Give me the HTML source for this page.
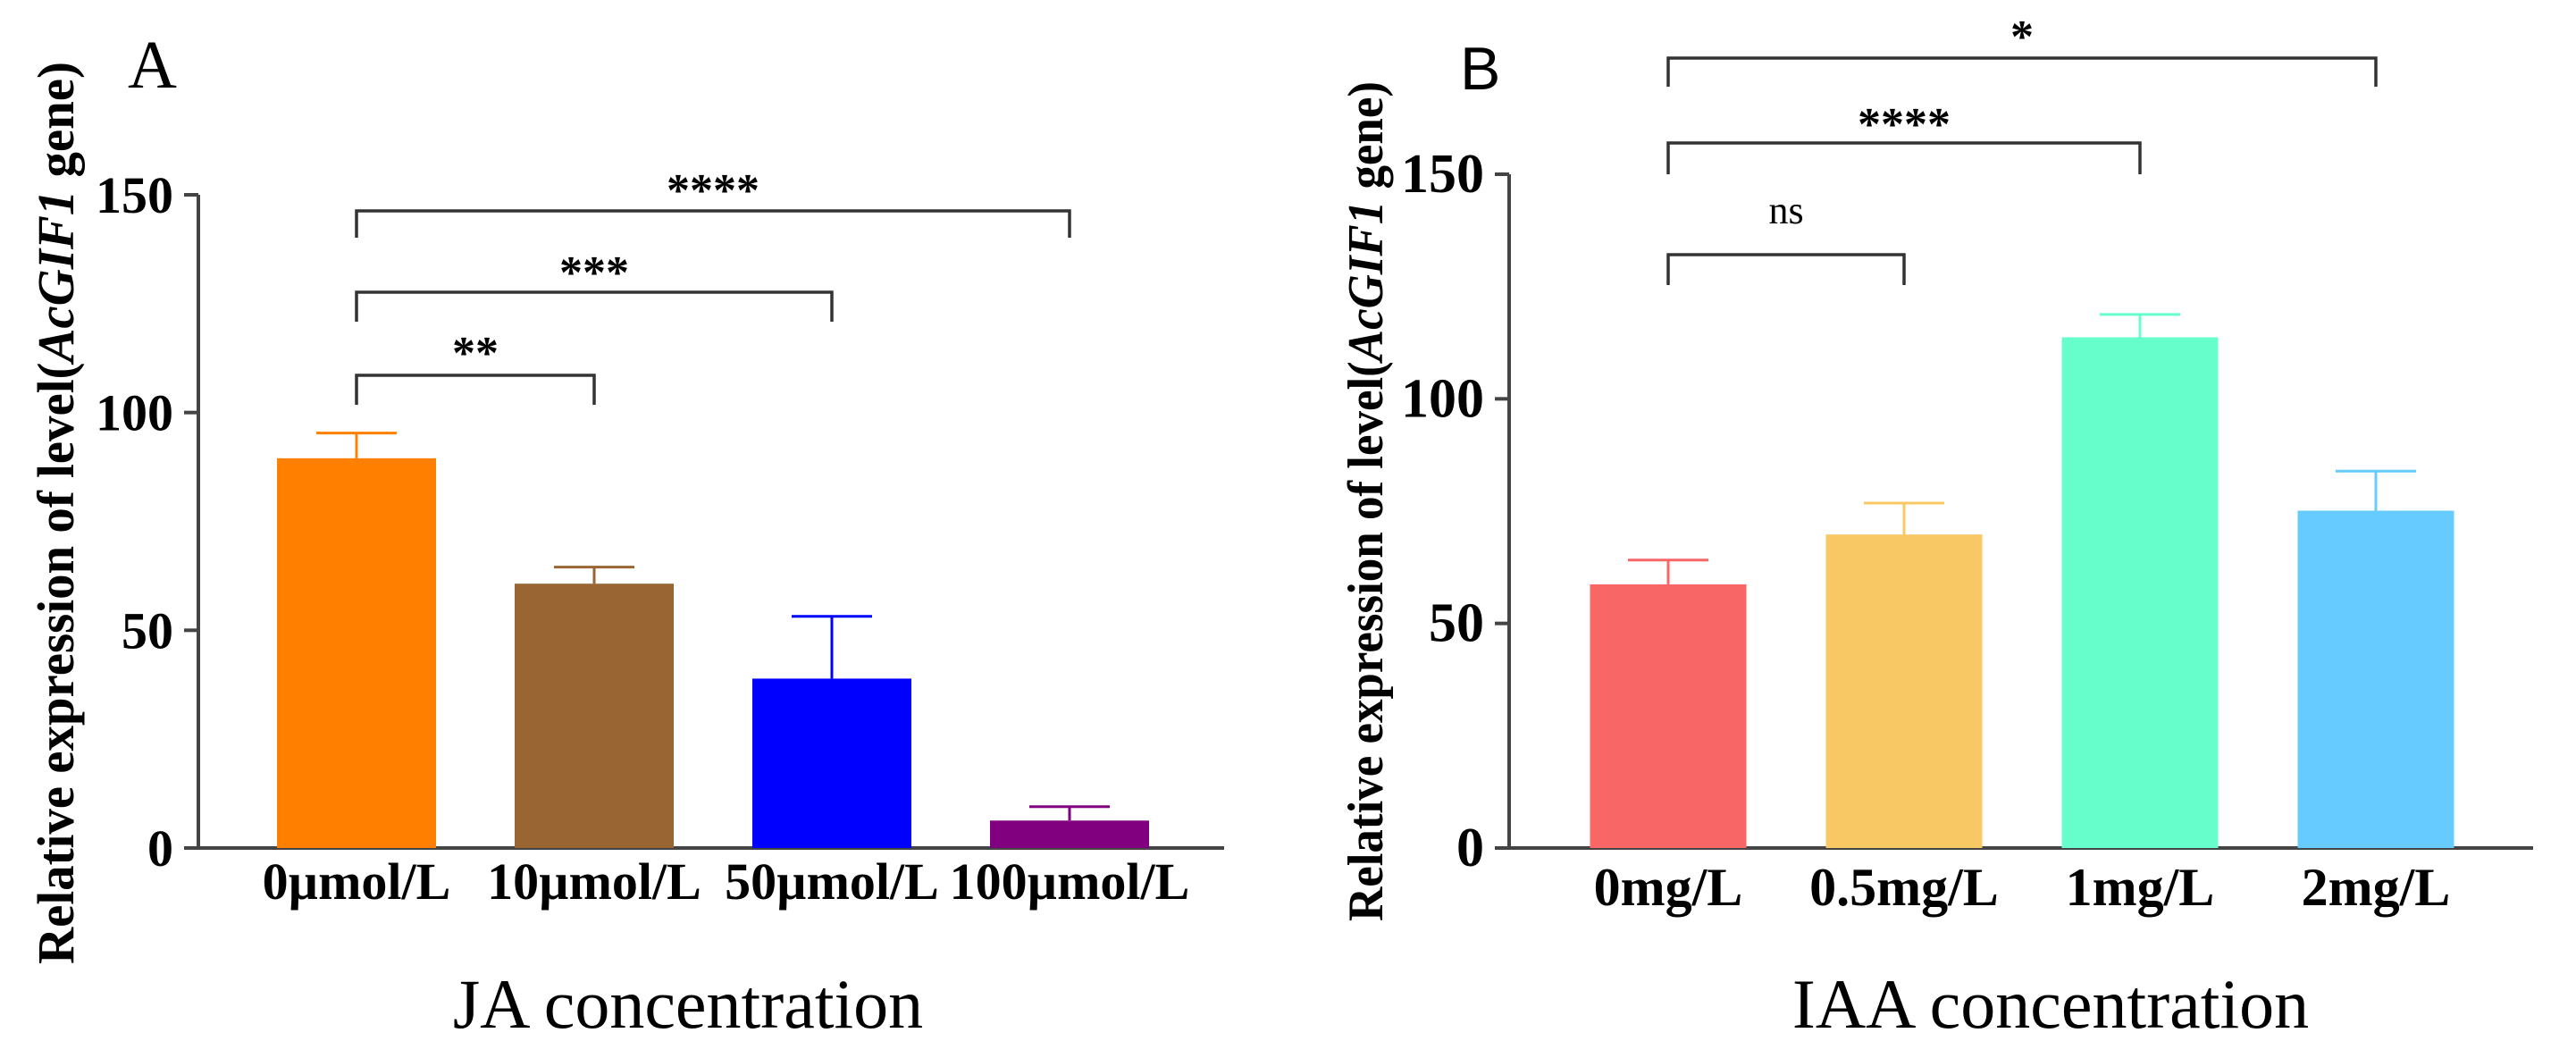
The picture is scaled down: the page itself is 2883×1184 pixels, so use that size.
<!DOCTYPE html>
<html><head><meta charset="utf-8"><style>
html,body{margin:0;padding:0;background:#fff;}
svg{display:block;}
text{font-family:"Liberation Serif",serif;}
</style></head><body>
<svg id="chart" width="2883" height="1184" viewBox="0 0 2883 1184" xmlns="http://www.w3.org/2000/svg">
<rect width="2883" height="1184" fill="#fff"/>
<text x="143" y="98" font-size="76">A</text>
<text x="1634" y="100" font-size="68" style="font-family:'Liberation Sans',sans-serif">B</text>
<text x="770" y="1150" font-size="78" text-anchor="middle">JA concentration</text>
<text x="2295" y="1150" font-size="78" text-anchor="middle">IAA concentration</text>
<text transform="translate(82,574) rotate(-90)" font-size="58" font-weight="bold" text-anchor="middle" textLength="1010" lengthAdjust="spacingAndGlyphs">Relative expression of level(<tspan font-style="italic">AcGIF1</tspan> gene)</text>
<text transform="translate(1547,561) rotate(-90)" font-size="56" font-weight="bold" text-anchor="middle" textLength="940" lengthAdjust="spacingAndGlyphs">Relative expression of level(<tspan font-style="italic">AcGIF1</tspan> gene)</text>
<g id="pa"></g><g id="pb"></g>
</svg>
<script>
const catsA = ["0µmol/L","10µmol/L","50µmol/L","100µmol/L"];
const valsA = [89.5, 60.7, 38.9, 6.3];
const errA = [95.3, 64.5, 53.2, 9.5];
const colorsA = ["#FF8000","#996633","#0000FF","#800080"];
const ticksA = [0, 50, 100, 150];
const sigA = [[1,"**"],[2,"***"],[3,"****"]];

const catsB = ["0mg/L","0.5mg/L","1mg/L","2mg/L"];
const valsB = [58.7, 69.8, 113.7, 75.1];
const errB = [64.1, 76.8, 118.8, 83.9];
const colorsB = ["#F86666","#F8C864","#66FFCC","#66CCFF"];
const ticksB = [0, 50, 100, 150];
const sigB = [[1,"ns"],[2,"****"],[3,"*"]];

const NS="http://www.w3.org/2000/svg";
function mk(g,tag,attrs){const e=document.createElementNS(NS,tag);for(const k in attrs)e.setAttribute(k,attrs[k]);g.appendChild(e);return e;}

function draw(gid,cfg){
  const g=document.getElementById(gid);
  const y=v=>cfg.y0-(v/150)*(cfg.y0-cfg.y150);
  const x=i=>cfg.x0c+i*cfg.step;
  // axes
  let a=mk(g,'line',{x1:cfg.ax,y1:y(150),x2:cfg.ax,y2:cfg.y0+2,stroke:'#444','stroke-width':4});
  
  
  a=mk(g,'line',{x1:cfg.ax,y1:cfg.y0,x2:cfg.axEnd,y2:cfg.y0,stroke:'#444','stroke-width':4});
  
  
  cfg.ticks.forEach(t=>{
    const l=mk(g,'line',{x1:cfg.ax-16,y1:y(t),x2:cfg.ax,y2:y(t),stroke:'#444','stroke-width':4});
    
    
    const tx=mk(g,'text',{x:cfg.ax-28,y:y(t)+20,'font-size':cfg.tickFs,'font-weight':'bold','text-anchor':'end'});
    tx.textContent=t;
    
    
  });
  cfg.cats.forEach((c,i)=>{
    const cx=x(i);
    const r=mk(g,'rect',{x:cx-cfg.bw/2,y:y(cfg.vals[i]),width:cfg.bw,height:cfg.y0-y(cfg.vals[i]),fill:cfg.colors[i]});
    
    
    const e=mk(g,'path',{d:`M${cx},${y(cfg.vals[i])} V${y(cfg.err[i])} M${cx-45},${y(cfg.err[i])} H${cx+45}`,stroke:cfg.colors[i],'stroke-width':3,fill:'none'});
    
    
    const t=mk(g,'text',{x:cx,y:cfg.labY,'font-size':cfg.labFs,'font-weight':'bold','text-anchor':'middle'});
    t.textContent=c;
    
    
  });
  cfg.sig.forEach((s,k)=>{
    const b=cfg.brk[k];
    const p=mk(g,'path',{d:`M${x(0)},${b[1]} V${b[0]} H${x(s[0])} V${b[1]}`,stroke:'#333','stroke-width':3.5,fill:'none'});
    
    
    const t=mk(g,'text',{x:(x(0)+x(s[0]))/2,y:b[2],'font-size':s[1]==='ns'?44:52,'font-weight':s[1]==='ns'?'normal':'bold','text-anchor':'middle'});
    t.textContent=s[1];
    
    
  });
}
draw('pa',{cats:catsA,vals:valsA,err:errA,colors:colorsA,ticks:ticksA,sig:sigA,
  ax:222,axEnd:1370,y0:949,y150:218,x0c:399,step:266,bw:178,tickFs:58,labFs:58,labY:1006,
  brk:[[420,453,412],[327,360,322],[236,266,230]]});
draw('pb',{cats:catsB,vals:valsB,err:errB,colors:colorsB,ticks:ticksB,sig:sigB,
  ax:1689,axEnd:2835,y0:949,y150:195,x0c:1867,step:264,bw:175,tickFs:62,labFs:60,labY:1013,
  brk:[[285,319,250],[160,195,156],[65,97,58]]});
</script>
</body></html>
